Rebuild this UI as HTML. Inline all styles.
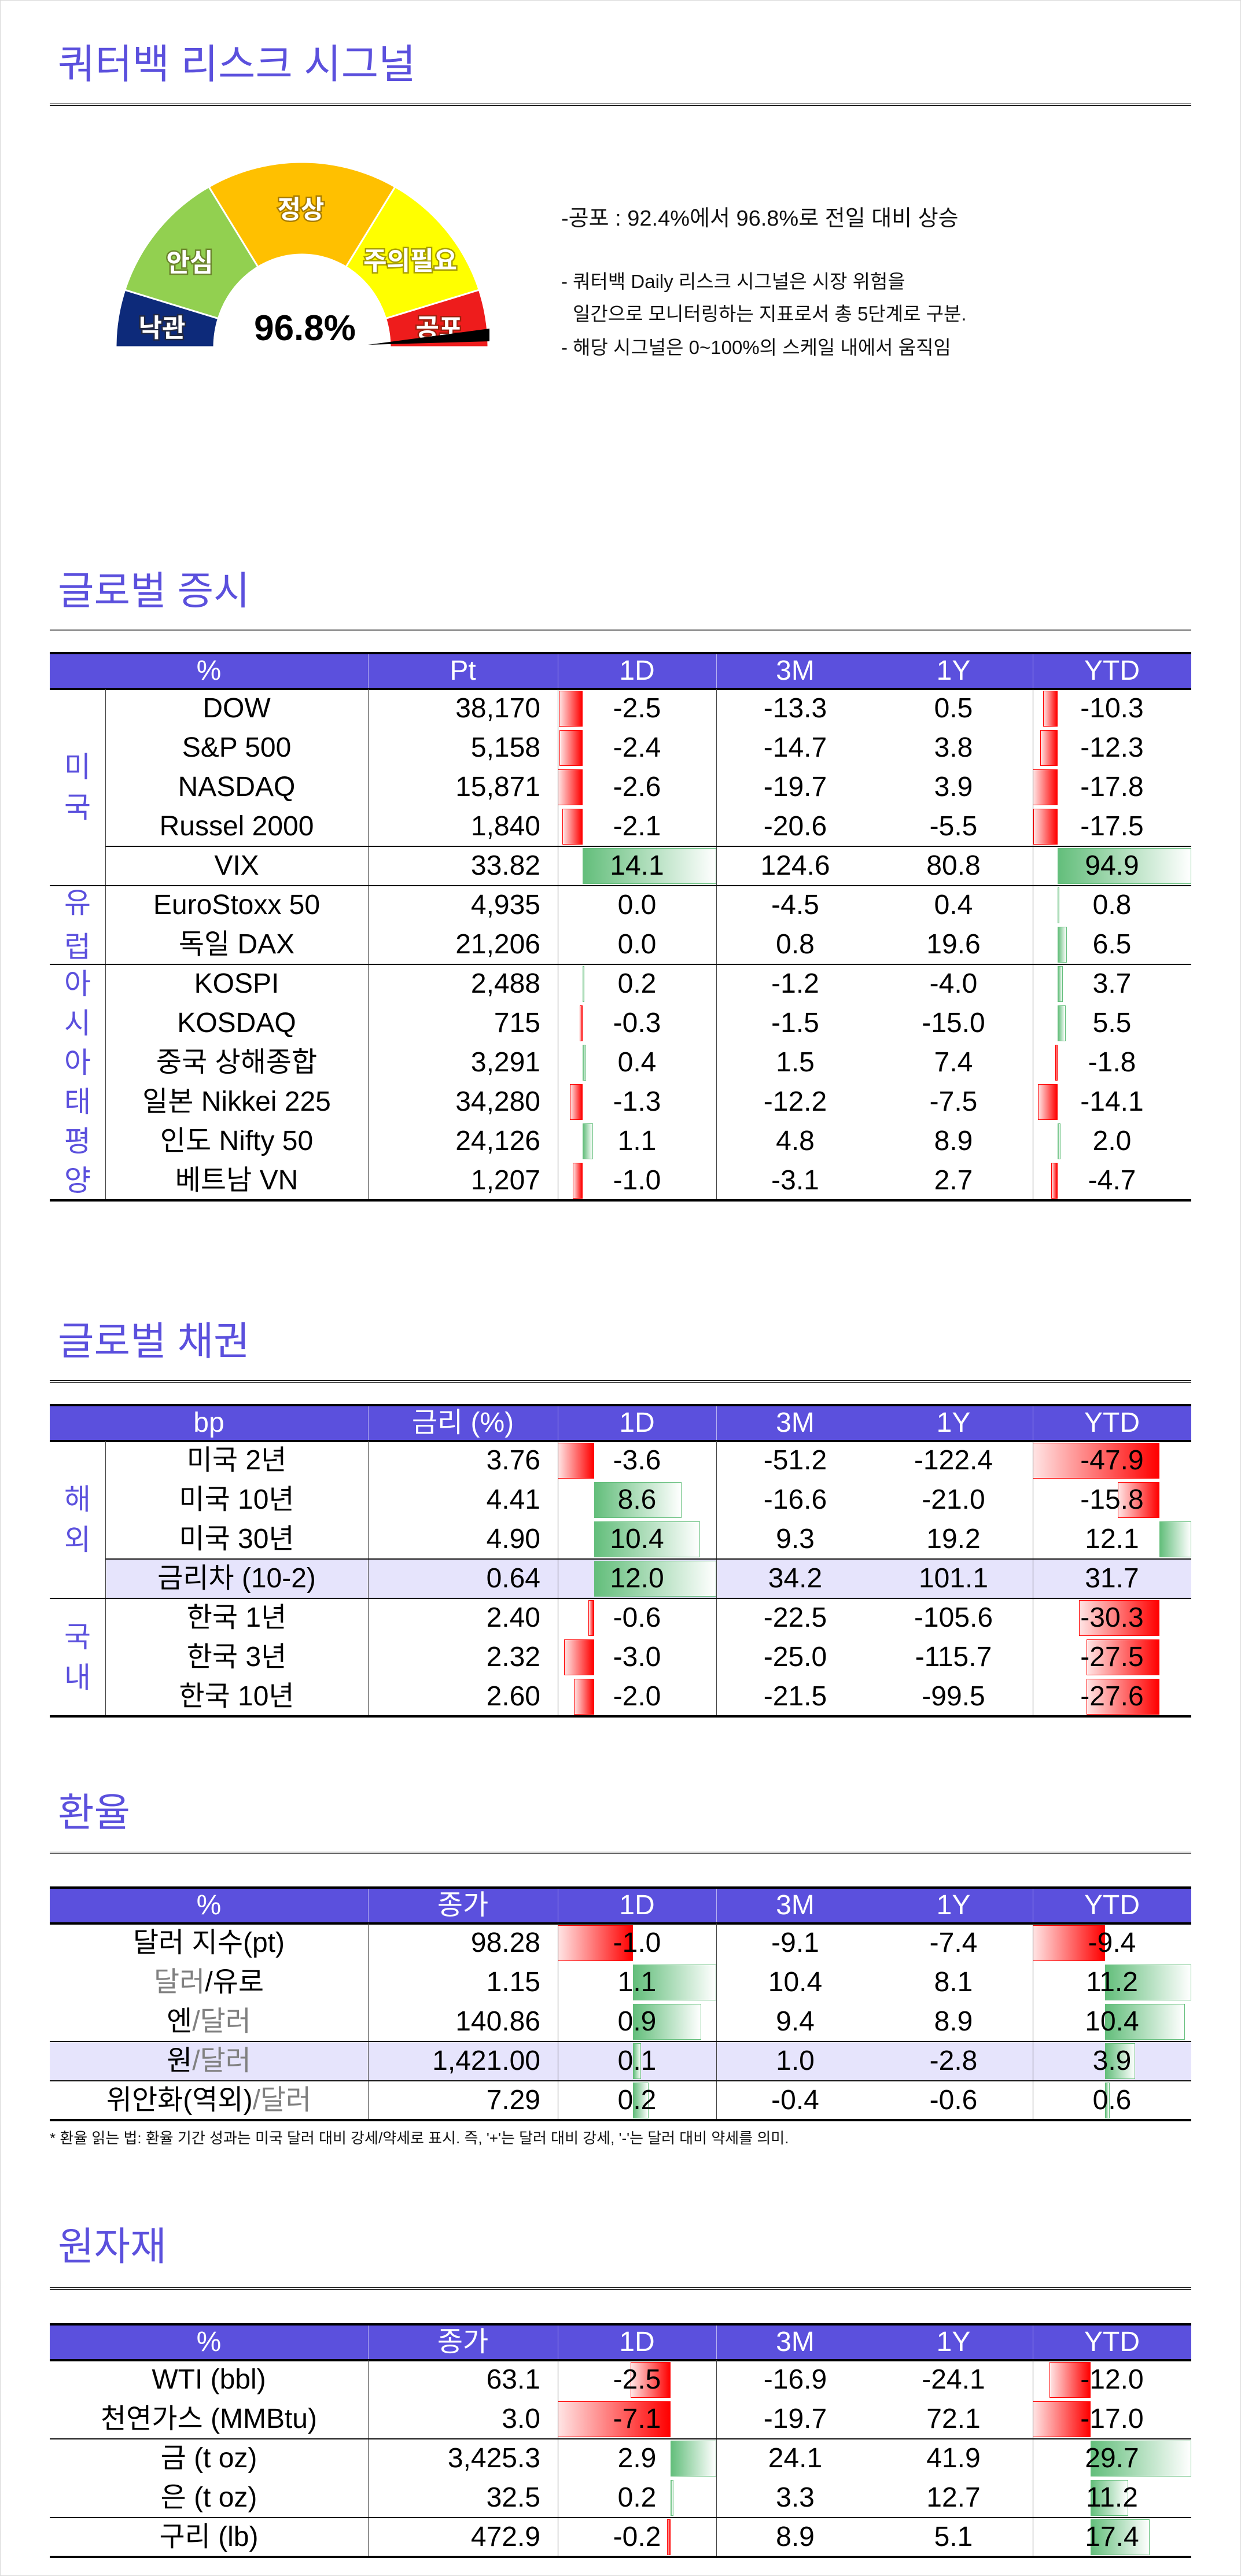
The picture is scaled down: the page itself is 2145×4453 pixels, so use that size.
<!DOCTYPE html>
<html><head><meta charset="utf-8">
<style>
html,body{margin:0;padding:0;background:#fff;}
body{width:2145px;height:4453px;position:relative;overflow:hidden;font-family:"Liberation Sans","Noto Sans CJK KR",sans-serif;}
.abs{position:absolute;}
.title{position:absolute;left:100px;color:#5b50dd;font-size:68px;font-family:"Liberation Sans","Noto Sans CJK KR",sans-serif;line-height:1;}
.dline{position:absolute;left:86px;width:1973px;height:2px;border-top:1px solid #000;border-bottom:1px solid #000;}
.cell{position:absolute;font-size:48px;line-height:68px;color:#000;white-space:nowrap;}
.hd{position:absolute;color:#fff;font-size:48px;text-align:center;}
.gray{color:#808080;}
.note{position:absolute;font-size:38px;color:#111;white-space:nowrap;}
</style></head>
<body>
<div class="abs" style="left:0;top:0;width:2143px;height:4451px;border:1px solid #d8d8d8;"></div>

<div class="title" style="top:76px;font-size:70px;">쿼터백 리스크 시그널</div>
<div class="dline" style="top:179px;"></div>

<svg class="abs" style="left:0;top:240px;" width="960" height="400" viewBox="0 240 960 400" id="gauge"></svg>

<div class="note" style="left:970px;top:346px;">-공포 : 92.4%에서 96.8%로 전일 대비 상승</div>
<div class="note" style="left:970px;top:460px;font-size:33px;">- 쿼터백 Daily 리스크 시그널은 시장 위험을</div>
<div class="note" style="left:990px;top:516px;font-size:33px;">일간으로 모니터링하는 지표로서 총 5단계로 구분.</div>
<div class="note" style="left:970px;top:574px;font-size:33px;">- 해당 시그널은 0~100%의 스케일 내에서 움직임</div>

<div class="title" style="top:988px;">글로벌 증시</div>
<div class="dline" style="top:1087px;"></div>
<div class="title" style="top:2285px;">글로벌 채권</div>
<div class="dline" style="top:2386px;"></div>
<div class="title" style="top:3100px;">환율</div>
<div class="dline" style="top:3201px;"></div>
<div class="title" style="top:3850px;">원자재</div>
<div class="dline" style="top:3954px;"></div>

<div class="note" style="left:86px;top:3676px;font-size:26px;">* 환율 읽는 법: 환율 기간 성과는 미국 달러 대비 강세/약세로 표시. 즉, '+'는 달러 대비 강세, '-'는 달러 대비 약세를 의미.</div>

<div id="tables"></div>

<script>
// ---------- Gauge data ----------
const gaugeLabels = ['낙관','안심','정상','주의필요','공포'];
const gaugeBounds = [180,162,120,60,18,0];
const gaugeColors = ['#0d2a7a','#92d050','#ffc000','#ffff00','#ee1c1c'];
const gaugeValue = '96.8%';

(function(){
  const svg=document.getElementById('gauge');
  const NS='http://www.w3.org/2000/svg';
  const cx=522,cy=600,rxO=322,ryO=320,rxI=152,ryI=160;
  const pt=(rx,ry,a)=>{const r=a*Math.PI/180;return [cx+rx*Math.cos(r),cy-ry*Math.sin(r)];};
  for(let i=0;i<5;i++){
    const a1=gaugeBounds[i],a2=gaugeBounds[i+1];
    let d='';
    const N=30;
    for(let k=0;k<=N;k++){const a=a1+(a2-a1)*k/N;const p=pt(rxO,ryO,a);d+=(k?'L':'M')+p[0].toFixed(1)+','+p[1].toFixed(1);}
    for(let k=N;k>=0;k--){const a=a1+(a2-a1)*k/N;const p=pt(rxI,ryI,a);d+='L'+p[0].toFixed(1)+','+p[1].toFixed(1);}
    d+='Z';
    const path=document.createElementNS(NS,'path');
    path.setAttribute('d',d);path.setAttribute('fill',gaugeColors[i]);
    path.setAttribute('stroke','#fff');path.setAttribute('stroke-width','3');
    
    
    svg.appendChild(path);
  }
  const labelPos=[[280,566],[328,453],[520,361],[709,450],[759,566]];
  for(let i=0;i<5;i++){
    const t=document.createElementNS(NS,'text');
    t.setAttribute('x',labelPos[i][0]);t.setAttribute('y',labelPos[i][1]+16);
    t.setAttribute('text-anchor','middle');t.setAttribute('font-size','44');
    t.setAttribute('font-weight','bold');t.setAttribute('fill','#fff');
    t.setAttribute('font-family','"Liberation Sans","Noto Sans CJK KR",sans-serif');
    t.setAttribute('style','paint-order:stroke;stroke:rgba(60,40,0,0.45);stroke-width:5px;');
    
    
    t.textContent=gaugeLabels[i];svg.appendChild(t);
  }
  const nd=document.createElementNS(NS,'polygon');
  nd.setAttribute('points','636,596 846,568 846,590');nd.setAttribute('fill','#000');
  
  
  svg.appendChild(nd);
  const v=document.createElementNS(NS,'text');
  v.setAttribute('x','527');v.setAttribute('y','588');v.setAttribute('text-anchor','middle');
  v.setAttribute('font-size','62');v.setAttribute('font-weight','bold');v.setAttribute('fill','#000');
  v.setAttribute('font-family','"Liberation Sans",sans-serif');
  
  
  v.textContent=gaugeValue;svg.appendChild(v);
})();

// ---------- Table data ----------
const eqNames=['DOW','S&P 500','NASDAQ','Russel 2000','VIX','EuroStoxx 50','독일 DAX','KOSPI','KOSDAQ','중국 상해종합','일본 Nikkei 225','인도 Nifty 50','베트남 VN'];
const eqPt=['38,170','5,158','15,871','1,840','33.82','4,935','21,206','2,488','715','3,291','34,280','24,126','1,207'];
const eq1D=[-2.5,-2.4,-2.6,-2.1,14.1,0.0,0.0,0.2,-0.3,0.4,-1.3,1.1,-1.0];
const eq3M=[-13.3,-14.7,-19.7,-20.6,124.6,-4.5,0.8,-1.2,-1.5,1.5,-12.2,4.8,-3.1];
const eq1Y=[0.5,3.8,3.9,-5.5,80.8,0.4,19.6,-4.0,-15.0,7.4,-7.5,8.9,2.7];
const eqYTD=[-10.3,-12.3,-17.8,-17.5,94.9,0.8,6.5,3.7,5.5,-1.8,-14.1,2.0,-4.7];

const bdNames=['미국 2년','미국 10년','미국 30년','금리차 (10-2)','한국 1년','한국 3년','한국 10년'];
const bdRate=['3.76','4.41','4.90','0.64','2.40','2.32','2.60'];
const bd1D=[-3.6,8.6,10.4,12.0,-0.6,-3.0,-2.0];
const bd3M=[-51.2,-16.6,9.3,34.2,-22.5,-25.0,-21.5];
const bd1Y=[-122.4,-21.0,19.2,101.1,-105.6,-115.7,-99.5];
const bdYTD=[-47.9,-15.8,12.1,31.7,-30.3,-27.5,-27.6];

const fxNames=['달러 지수(pt)','<span class="gray">달러</span>/유로','엔<span class="gray">/달러</span>','원<span class="gray">/달러</span>','위안화(역외)<span class="gray">/달러</span>'];
const fxClose=['98.28','1.15','140.86','1,421.00','7.29'];
const fx1D=[-1.0,1.1,0.9,0.1,0.2];
const fx3M=[-9.1,10.4,9.4,1.0,-0.4];
const fx1Y=[-7.4,8.1,8.9,-2.8,-0.6];
const fxYTD=[-9.4,11.2,10.4,3.9,0.6];

const cmNames=['WTI (bbl)','천연가스 (MMBtu)','금 (t oz)','은 (t oz)','구리 (lb)'];
const cmClose=['63.1','3.0','3,425.3','32.5','472.9'];
const cm1D=[-2.5,-7.1,2.9,0.2,-0.2];
const cm3M=[-16.9,-19.7,24.1,3.3,8.9];
const cm1Y=[-24.1,72.1,41.9,12.7,5.1];
const cmYTD=[-12.0,-17.0,29.7,11.2,17.4];

// ---------- Table rendering ----------
const ROWH=68,HDH=62;
const root=document.getElementById('tables');
function mk(cls,style,html,name){
  const d=document.createElement('div');
  if(cls)d.className=cls;
  d.style.cssText=style;
  if(html!==undefined)d.innerHTML=html;
  
  
  root.appendChild(d);return d;
}
function fmt(v){return v.toFixed(1);}
function bars(vals,top,x0,x1,key,skip){
  skip=skip||[];
  const used=vals.filter((v,i)=>skip.indexOf(i)<0);
  const mn=Math.min(0,...used),mx=Math.max(0,...used);
  const W=x1-x0, sc=W/(mx-mn), ax=x0+(-mn)*sc;
  vals.forEach((v,i)=>{
    if(v===0||skip.indexOf(i)>=0)return;
    const w=Math.abs(v)*sc;
    const left=v<0?ax-w:ax;
    const bg=v<0?'linear-gradient(to right,#ffe4e4,#ff0000)':'linear-gradient(to right,#63be7b,#ffffff)';
    const bc=v<0?'#ff0000':'#63be7b';
    mk('abs',`left:${left}px;top:${top+i*ROWH+3}px;width:${Math.max(w-2,1)}px;height:${ROWH-8}px;background:${bg};border:1px solid ${bc};`,undefined,key+'-bar-'+i);
  });
}
function table(spec){
  const t=spec.top, bodyTop=t+HDH, n=spec.names.length, bottom=bodyTop+n*ROWH;
  mk('abs',`left:86px;top:${t-2}px;width:1973px;background:#5b50dd;border-top:4px solid #000;border-bottom:4px solid #000;box-sizing:border-box;height:${HDH+4}px;`,undefined,spec.key+'-header');
  const hx=[[86,636],[636,964],[964,1238],[1238,1511],[1511,1785],[1785,2059]];
  spec.heads.forEach((h,i)=>{
    mk('hd',`left:${hx[i][0]}px;top:${t}px;width:${hx[i][1]-hx[i][0]}px;height:${HDH}px;line-height:${HDH}px;`,h,spec.key+'-header-'+i);
  });
  [636,964,1238,1785].forEach((x,i)=>mk('abs',`left:${x}px;top:${t+2}px;width:1px;height:${HDH-4}px;background:rgba(255,255,255,0.55);`,undefined,spec.key+'-header-divider-'+i));
  (spec.hl||[]).forEach(r=>{
    const lx=spec.regions?182:86;
    mk('abs',`left:${lx}px;top:${bodyTop+r*ROWH}px;width:${2059-lx}px;height:${ROWH}px;background:#e6e4fc;`,undefined,spec.key+'-highlight-row-'+r);
  });
  bars(spec.d1,bodyTop,964,1238,spec.key+'-1d');
  bars(spec.ytd,bodyTop,1785,2059,spec.key+'-ytd',spec.ytdSkip);
  const vl=spec.regions?[182,636,964,1238,1785]:[636,964,1238,1785];
  vl.forEach((x,i)=>mk('abs',`left:${x}px;top:${bodyTop}px;width:1px;height:${n*ROWH}px;background:#444;`,undefined,spec.key+'-col-divider-'+i));
  spec.seps.forEach((s,i)=>mk('abs',`left:${s[1]}px;top:${bodyTop+(s[0]+1)*ROWH-1}px;width:${2059-s[1]}px;height:2px;background:#111;`,undefined,spec.key+'-row-separator-'+i));
  mk('abs',`left:86px;top:${bottom-2}px;width:1973px;height:4px;background:#000;`,undefined,spec.key+'-bottom-border');
  (spec.regions||[]).forEach((r,i)=>{
    const html=r.t.split('').join('<br>');
    mk('abs',`left:86px;top:${bodyTop+r.s*ROWH}px;width:96px;height:${r.n*ROWH}px;display:flex;align-items:center;justify-content:center;text-align:center;color:#5b50dd;font-size:50px;line-height:${r.lh}px;`,html,spec.key+'-region-'+i);
  });
  const nx=spec.regions?[182,636]:[86,636];
  for(let i=0;i<n;i++){
    const y=bodyTop+i*ROWH;
    mk('cell',`left:${nx[0]}px;top:${y}px;width:${nx[1]-nx[0]}px;text-align:center;`,spec.names[i],spec.key+'-name-'+i);
    mk('cell',`left:636px;top:${y}px;width:298px;text-align:right;`,spec.pt[i],spec.key+'-level-'+i);
    mk('cell',`left:964px;top:${y}px;width:274px;text-align:center;`,fmt(spec.d1[i]),spec.key+'-1d-'+i);
    mk('cell',`left:1238px;top:${y}px;width:273px;text-align:center;`,fmt(spec.m3[i]),spec.key+'-3m-'+i);
    mk('cell',`left:1511px;top:${y}px;width:274px;text-align:center;`,fmt(spec.y1[i]),spec.key+'-1y-'+i);
    mk('cell',`left:1785px;top:${y}px;width:274px;text-align:center;`,fmt(spec.ytd[i]),spec.key+'-ytd-'+i);
  }
}
table({key:'equity',top:1129,heads:['%','Pt','1D','3M','1Y','YTD'],names:eqNames,pt:eqPt,d1:eq1D,m3:eq3M,y1:eq1Y,ytd:eqYTD,
  seps:[[3,182],[4,86],[6,86]],regions:[{t:'미국',s:0,n:5,lh:70},{t:'유럽',s:5,n:2,lh:76},{t:'아시아태평양',s:7,n:6,lh:68}]});
table({key:'bond',top:2429,heads:['bp','금리 (%)','1D','3M','1Y','YTD'],names:bdNames,pt:bdRate,d1:bd1D,m3:bd3M,y1:bd1Y,ytd:bdYTD,
  seps:[[2,182],[3,86]],hl:[3],ytdSkip:[3],regions:[{t:'해외',s:0,n:4,lh:70},{t:'국내',s:4,n:3,lh:70}]});
table({key:'fx',top:3263,heads:['%','종가','1D','3M','1Y','YTD'],names:fxNames,pt:fxClose,d1:fx1D,m3:fx3M,y1:fx1Y,ytd:fxYTD,
  seps:[[2,86],[3,86]],hl:[3]});
table({key:'commodity',top:4018,heads:['%','종가','1D','3M','1Y','YTD'],names:cmNames,pt:cmClose,d1:cm1D,m3:cm3M,y1:cm1Y,ytd:cmYTD,
  seps:[[1,86],[3,86]]});
</script>
</body></html>
